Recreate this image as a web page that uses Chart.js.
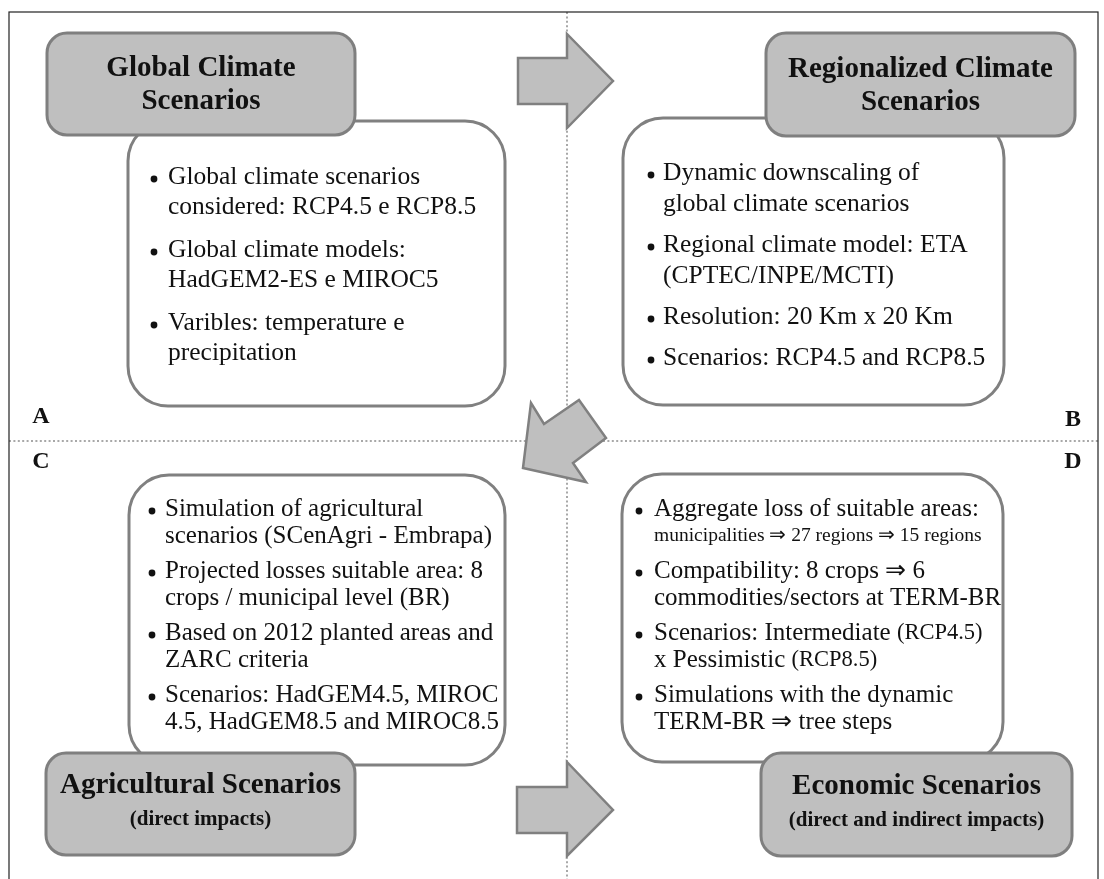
<!DOCTYPE html>
<html>
<head>
<meta charset="utf-8">
<script src="https://cdn.jsdelivr.net/npm/chart.js@4.4.1/dist/chart.umd.min.js"></script>
<style>
  html, body { margin: 0; padding: 0; background: #fff; }
  #flow { display: block; }
</style>
</head>
<body>
<canvas id="flow" width="1104" height="879"></canvas>
<script>
// content of the four panels
const panelLetters = ['A', 'B', 'C', 'D'];
const headerTitles = [
  ['Global Climate', 'Scenarios'],
  ['Regionalized Climate', 'Scenarios'],
  ['Agricultural Scenarios'],
  ['Economic Scenarios']
];
const headerSubtitles = ['', '', '(direct impacts)', '(direct and indirect impacts)'];

// {...} = small parenthetical, <...> = small sub-line
const bulletsA = [
  ['Global climate scenarios', 'considered: RCP4.5 e RCP8.5'],
  ['Global climate models:', 'HadGEM2-ES e MIROC5'],
  ['Varibles: temperature e', 'precipitation']
];
const bulletsB = [
  ['Dynamic downscaling of', 'global climate scenarios'],
  ['Regional climate model: ETA', '(CPTEC/INPE/MCTI)'],
  ['Resolution: 20 Km x 20 Km'],
  ['Scenarios: RCP4.5 and RCP8.5']
];
const bulletsC = [
  ['Simulation of agricultural', 'scenarios (SCenAgri - Embrapa)'],
  ['Projected losses suitable area: 8', 'crops / municipal level (BR)'],
  ['Based on 2012 planted areas and', 'ZARC criteria'],
  ['Scenarios: HadGEM4.5, MIROC', '4.5, HadGEM8.5 and MIROC8.5']
];
const bulletsD = [
  ['Aggregate loss of suitable areas:', '<municipalities \u21D2 27 regions \u21D2 15 regions>'],
  ['Compatibility: 8 crops \u21D2 6', 'commodities/sectors at TERM-BR'],
  ['Scenarios: Intermediate {(RCP4.5)}', 'x Pessimistic {(RCP8.5)}'],
  ['Simulations with the dynamic', 'TERM-BR \u21D2 tree steps']
];
const panelBullets = [bulletsA, bulletsB, bulletsC, bulletsD];

// layout in canvas units
const layout = {
  frame: [9, 12, 1098, 882],
  divider: { x: 567, y: 441 },
  headers: [[47, 33, 355, 135], [766, 33, 1075, 136], [46, 753, 355, 855], [761, 753, 1072, 856]],
  boxes: [[128, 121, 505, 406], [623, 118, 1004, 405], [129, 475, 505, 765], [622, 474, 1003, 762]],
  // bullet x, text x, first line y, line step, paragraph step, font size
  lists: [
    [154, 168, 177, 30, 43, 25.5],
    [651, 663, 173, 31, 41, 25.5],
    [152, 165, 509, 27, 35, 25],
    [639, 654, 509, 27, 35, 25]
  ],
  letters: [[41, 417], [1073, 420], [41, 462], [1073, 462]],
  arrows: [
    [[518, 58], [567, 58], [567, 34], [613, 81], [567, 128], [567, 104], [518, 104]],
    [[523, 468], [531, 403], [544, 424], [579, 400], [606, 438], [573, 463], [586, 482]],
    [[517, 787], [567, 787], [567, 762], [613, 810], [567, 856], [567, 833], [517, 833]]
  ]
};

const SERIF = '"Liberation Serif", "Times New Roman", serif';

function roundRect(ctx, x0, y0, x1, y1, r) {
  ctx.beginPath();
  ctx.moveTo(x0 + r, y0);
  ctx.lineTo(x1 - r, y0);
  ctx.arcTo(x1, y0, x1, y0 + r, r);
  ctx.lineTo(x1, y1 - r);
  ctx.arcTo(x1, y1, x1 - r, y1, r);
  ctx.lineTo(x0 + r, y1);
  ctx.arcTo(x0, y1, x0, y1 - r, r);
  ctx.lineTo(x0, y0 + r);
  ctx.arcTo(x0, y0, x0 + r, y0, r);
  ctx.closePath();
}

function drawRuns(ctx, line, x, y, size) {
  const parts = line.split(/(\{[^}]*\}|<[^>]*>)/).filter(s => s.length);
  let cx = x;
  parts.forEach(p => {
    let txt = p, fs = size;
    if (p[0] === '{') { txt = p.slice(1, -1); fs = size * 0.9; }
    else if (p[0] === '<') { txt = p.slice(1, -1); fs = size * 0.78; }
    ctx.font = fs + 'px ' + SERIF;
    ctx.fillText(txt, cx, y);
    cx += ctx.measureText(txt).width;
  });
}

const diagram = {
  id: 'diagram',
  afterDraw(chart) {
    const { ctx, scales: { x, y } } = chart;
    const px = v => x.getPixelForValue(v);
    const py = v => y.getPixelForValue(v);
    ctx.save();

    // dotted quadrant dividers
    ctx.strokeStyle = '#a8a8a8';
    ctx.lineWidth = 2;
    ctx.setLineDash([2, 2.4]);
    ctx.beginPath();
    ctx.moveTo(px(layout.divider.x), py(layout.frame[1]));
    ctx.lineTo(px(layout.divider.x), py(879));
    ctx.moveTo(px(layout.frame[0]), py(layout.divider.y));
    ctx.lineTo(px(layout.frame[2]), py(layout.divider.y));
    ctx.stroke();
    ctx.setLineDash([]);

    // outer frame
    ctx.strokeStyle = '#222';
    ctx.lineWidth = 1.2;
    const f = layout.frame;
    ctx.strokeRect(px(f[0]), py(f[1]), px(f[2]) - px(f[0]), py(f[3]) - py(f[1]));

    // block arrows
    layout.arrows.forEach(pts => {
      ctx.beginPath();
      pts.forEach((p, i) => i ? ctx.lineTo(px(p[0]), py(p[1])) : ctx.moveTo(px(p[0]), py(p[1])));
      ctx.closePath();
      ctx.fillStyle = '#bfbfbf';
      ctx.fill();
      ctx.strokeStyle = '#808080';
      ctx.lineWidth = 2.5;
      ctx.lineJoin = 'miter';
      ctx.stroke();
    });

    // white content boxes
    layout.boxes.forEach(b => {
      roundRect(ctx, px(b[0]), py(b[1]), px(b[2]), py(b[3]), 40);
      ctx.fillStyle = '#fff';
      ctx.fill();
      ctx.strokeStyle = '#808080';
      ctx.lineWidth = 3;
      ctx.stroke();
    });

    // grey header boxes
    layout.headers.forEach((h, i) => {
      roundRect(ctx, px(h[0]), py(h[1]), px(h[2]), py(h[3]), 20);
      ctx.fillStyle = '#bfbfbf';
      ctx.fill();
      ctx.strokeStyle = '#7f7f7f';
      ctx.lineWidth = 3;
      ctx.stroke();

      const cx = px((h[0] + h[2]) / 2);
      const cy = (h[1] + h[3]) / 2;
      ctx.fillStyle = '#111';
      ctx.textAlign = 'center';
      ctx.textBaseline = 'middle';
      const title = headerTitles[i];
      if (headerSubtitles[i]) {
        ctx.font = 'bold 29px ' + SERIF;
        ctx.fillText(title[0], cx, py(cy - 18));
        ctx.font = 'bold 21px ' + SERIF;
        ctx.fillText(headerSubtitles[i], cx, py(cy + 16));
      } else {
        ctx.font = 'bold 29px ' + SERIF;
        title.forEach((t, k) => ctx.fillText(t, cx, py(cy - 15 + k * 33)));
      }
    });

    // bullet lists
    ctx.textAlign = 'left';
    ctx.textBaseline = 'middle';
    ctx.fillStyle = '#111';
    panelBullets.forEach((list, i) => {
      const [bx, tx, y0, step, para, size] = layout.lists[i];
      let yy = y0;
      list.forEach(item => {
        ctx.beginPath();
        ctx.arc(px(bx), py(yy + 2), 3.4, 0, Math.PI * 2);
        ctx.fill();
        item.forEach((line, k) => {
          drawRuns(ctx, line, px(tx), py(yy), size);
          if (k < item.length - 1) yy += step;
        });
        yy += para;
      });
    });

    // panel letters
    ctx.font = 'bold 24px ' + SERIF;
    ctx.textAlign = 'center';
    panelLetters.forEach((l, i) => {
      ctx.fillText(l, px(layout.letters[i][0]), py(layout.letters[i][1]));
    });

    ctx.restore();
  }
};

new Chart(document.getElementById('flow').getContext('2d'), {
  type: 'scatter',
  data: { datasets: [{ data: [], pointRadius: 0 }] },
  options: {
    responsive: false,
    animation: false,
    layout: { padding: 0 },
    plugins: { legend: { display: false }, tooltip: { enabled: false } },
    scales: {
      x: { type: 'linear', min: 0, max: 1104, display: false },
      y: { type: 'linear', min: 0, max: 879, reverse: true, display: false }
    }
  },
  plugins: [diagram]
});
</script>
</body>
</html>
